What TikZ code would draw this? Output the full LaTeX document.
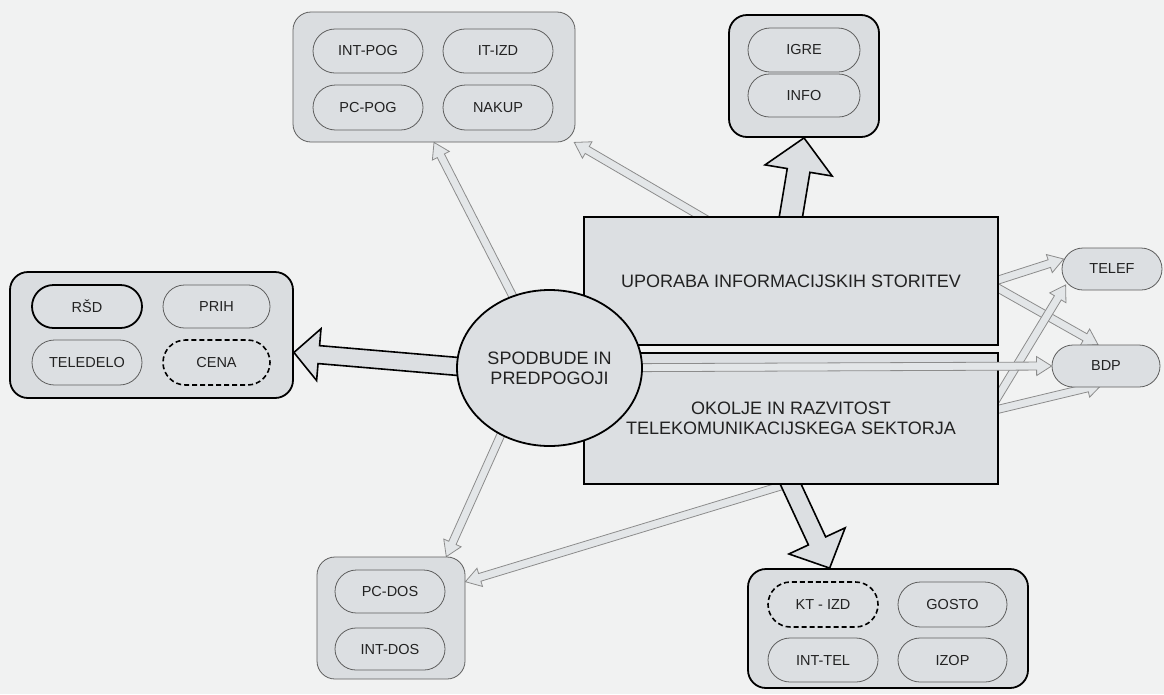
\documentclass[tikz,border=0pt]{standalone}
\usepackage{fontspec}
\setmainfont{Liberation Sans}
\usetikzlibrary{calc,shapes.geometric,shapes.misc}
\definecolor{bgcol}{HTML}{F1F2F2}
\definecolor{boxfill}{HTML}{DADDE0}
\definecolor{pillfill}{HTML}{DCDFE2}
\definecolor{thinline}{HTML}{5E5E5E}
\definecolor{arrowline}{HTML}{8C8C8C}
\definecolor{arrowfill}{HTML}{E3E6E8}
\definecolor{txt}{HTML}{222222}
\pgfdeclarelayer{bglayer}
\pgfdeclarelayer{backlayer}
\pgfdeclarelayer{frontlayer}
\pgfsetlayers{bglayer,backlayer,main,frontlayer}
% #1 style, #2 start, #3 tip, #4 half shaft, #5 half head, #6 head length
\newcommand\blockarrow[6]{%
  \coordinate (bahead) at ($(#3)!#6!(#2)$);
  \draw[#1] ($(#2)!#4!90:(#3)$) -- ($(bahead)!#4!90:(#3)$) -- ($(bahead)!#5!90:(#3)$)
    -- (#3) -- ($(bahead)!#5!-90:(#3)$) -- ($(bahead)!#4!-90:(#3)$) -- ($(#2)!#4!-90:(#3)$) -- cycle;}
\tikzset{
  pill/.style={rounded rectangle, draw=thinline, line width=0.8pt, fill=pillfill,
    font=\fontsize{14.5}{17}\selectfont, text=txt, inner sep=0pt},
  pillthick/.style={pill, draw=black, line width=1.8pt},
  pilldash/.style={pill, draw=black, line width=1.6pt, dash pattern=on 5pt off 3pt},
  grpthin/.style={rectangle, rounded corners=18pt, draw=thinline, line width=0.8pt, fill=boxfill, inner sep=0pt},
  grpthick/.style={grpthin, draw=black, line width=1.8pt},
  bigbox/.style={rectangle, draw=black, line width=1.8pt, fill=pillfill, inner sep=0pt,
    font=\fontsize{18}{20}\selectfont, text=txt, align=center},
  thinarrow/.style={draw=arrowline, line width=0.8pt, fill=arrowfill, line join=miter},
  thickarrow/.style={draw=black, line width=1.6pt, fill=pillfill, line join=miter},
}
\begin{document}
\begin{tikzpicture}[x=1pt,y=-1pt]
\useasboundingbox (0,0) rectangle (1164,694);
\begin{pgfonlayer}{bglayer}
  \fill[bgcol] (0,0) rectangle (1164,694);
\end{pgfonlayer}

% central ellipse on top
\begin{pgfonlayer}{frontlayer}
  \node[ellipse, draw=black, line width=1.8pt, fill=pillfill, minimum width=185pt, minimum height=156pt,
    inner sep=0pt, align=center, font=\fontsize{18}{20}\selectfont, text=txt] (ell) at (549.5,368) {SPODBUDE IN\\PREDPOGOJI};
\end{pgfonlayer}

% big rectangles
\node[bigbox, minimum width=414pt, minimum height=128pt] (upo) at (791,281) {UPORABA INFORMACIJSKIH STORITEV};
\node[bigbox, minimum width=414pt, minimum height=131pt] (okl) at (791,418.5) {OKOLJE IN RAZVITOST\\TELEKOMUNIKACIJSKEGA SEKTORJA};

% group boxes
\node[grpthin, minimum width=282pt, minimum height=130pt] (gA) at (434,77) {};
\node[grpthick, minimum width=150pt, minimum height=122pt] (gB) at (804,76) {};
\node[grpthick, minimum width=283pt, minimum height=126pt] (gC) at (151.5,335) {};
\node[grpthin, minimum width=148pt, minimum height=122pt] (gD) at (391,618) {};
\node[grpthick, minimum width=280pt, minimum height=119pt] (gE) at (888,628.5) {};

% pills
\node[pill, minimum width=110pt, minimum height=44pt] (intpog) at (368,51) {INT-POG};
\node[pill, minimum width=110pt, minimum height=44pt] (itizd) at (498,51) {IT-IZD};
\node[pill, minimum width=110pt, minimum height=45pt] (pcpog) at (368,107.5) {PC-POG};
\node[pill, minimum width=110pt, minimum height=45pt] (nakup) at (498,107.5) {NAKUP};

\node[pill, minimum width=112pt, minimum height=44pt] (igre) at (804,50) {IGRE};
\node[pill, minimum width=112pt, minimum height=43pt] (info) at (804,95.5) {INFO};

\node[pillthick, minimum width=110pt, minimum height=43pt] (rsd) at (87,306.5) {RŠD};
\node[pill, minimum width=107pt, minimum height=43pt] (prih) at (216.5,306.5) {PRIH};
\node[pill, minimum width=110pt, minimum height=45pt] (teledelo) at (87,362.5) {TELEDELO};
\node[pilldash, minimum width=107pt, minimum height=45pt] (cena) at (216.5,362.5) {CENA};

\node[pill, minimum width=110pt, minimum height=43pt] (pcdos) at (390,591.5) {PC-DOS};
\node[pill, minimum width=110pt, minimum height=42pt] (intdos) at (390,649) {INT-DOS};

\node[pilldash, minimum width=110pt, minimum height=45pt] (ktizd) at (823,604.5) {KT - IZD};
\node[pill, minimum width=109pt, minimum height=45pt] (gosto) at (952.5,604.5) {GOSTO};
\node[pill, minimum width=110pt, minimum height=44pt] (inttel) at (823,660) {INT-TEL};
\node[pill, minimum width=109pt, minimum height=44pt] (izop) at (952.5,660) {IZOP};

\node[pill, minimum width=100pt, minimum height=42pt] (tel) at (1112,269) {TELEF};
\node[pill, minimum width=108pt, minimum height=42pt] (bdp) at (1106,366) {BDP};

% connector end points
\coordinate (aS) at (ell.center);
\coordinate (bS) at ($(upo.north)+(-82,5)$);
\coordinate (bT) at (gA.-25.5);
\coordinate (cS0) at (ell.234);
\coordinate (cT) at (gD.48);
\coordinate (cS) at ($(cS0)!-8pt!(cT)$);
\coordinate (dS) at ($(okl.south)+(10,-5)$);
\coordinate (dT) at (gD.26);
\coordinate (fS) at ($(upo.east)+(-10,2)$);
\coordinate (fT) at ($(tel.west)+(2,-10)$);
\coordinate (gT) at ($(bdp.north)+(-8,0)$);
\coordinate (hS) at ($(okl.east)+(-10,-7)$);
\coordinate (hT) at ($(tel.west)+(4,16)$);
\coordinate (iT) at ($(bdp.south)+(-4,-3)$);
\coordinate (LS) at ($(ell.west)+(20,0)$);
\coordinate (LT) at (gC.-7);
\coordinate (US0) at (upo.north);
\coordinate (UT) at (gB.south);
\coordinate (US) at ($(US0)!-10pt!(UT)$);
\coordinate (DS0) at (okl.south);
\coordinate (DT) at (gE.134);
\coordinate (DS) at ($(DS0)!-10pt!(DT)$);

\begin{pgfonlayer}{backlayer}
  \blockarrow{thinarrow}{aS}{gA.south}{4pt}{9.5pt}{15pt}
  \blockarrow{thinarrow}{bS}{bT}{4pt}{9.5pt}{15pt}
  \blockarrow{thinarrow}{cS}{cT}{4pt}{9.5pt}{15pt}
  \blockarrow{thinarrow}{dS}{dT}{4pt}{9.5pt}{15pt}
  \blockarrow{thinarrow}{fS}{fT}{4pt}{9.5pt}{15pt}
  \blockarrow{thinarrow}{fS}{gT}{4pt}{9.5pt}{15pt}
  \blockarrow{thinarrow}{hS}{hT}{4pt}{9.5pt}{15pt}
  \blockarrow{thinarrow}{hS}{iT}{4pt}{9.5pt}{15pt}
  \blockarrow{thickarrow}{LS}{LT}{9pt}{26pt}{25pt}
  \blockarrow{thickarrow}{US}{UT}{11.5pt}{34pt}{33pt}
  \blockarrow{thickarrow}{DS}{DT}{9.5pt}{31pt}{30pt}
\end{pgfonlayer}

% arrow over the rectangles
\blockarrow{thinarrow}{ell.center}{bdp.west}{4pt}{9.5pt}{15pt}
\end{tikzpicture}
\end{document}
